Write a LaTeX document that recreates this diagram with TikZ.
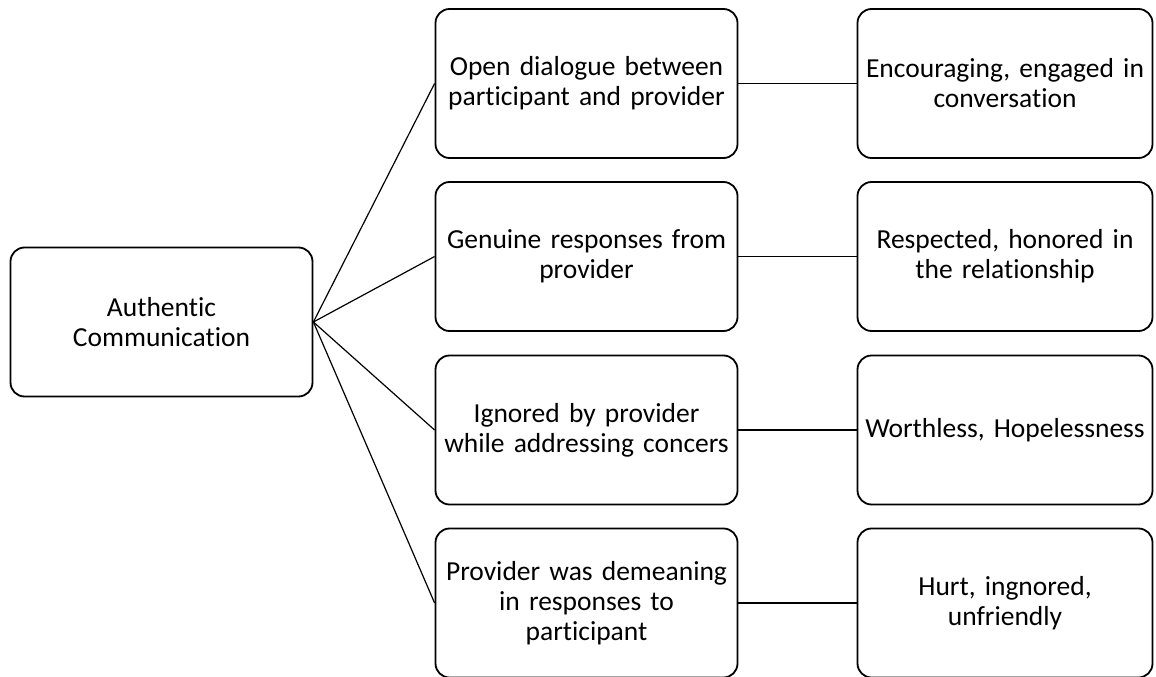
\documentclass[tikz,border=0pt]{standalone}
\usepackage{fontspec}
\setmainfont{Carlito}[RawFeature=-liga]
\usetikzlibrary{positioning}

\tikzset{
    box/.style={draw, line width=1.8pt, rounded corners=14pt, align=center,
        inner sep=0pt, minimum height=149pt, font=\fontsize{27.5}{30}\selectfont},
    link/.style={line width=1.2pt}
}

\begin{document}
\begin{tikzpicture}[x=1pt, y=-1pt]
    \useasboundingbox (0, 0) rectangle (1156, 677);

    % Root
    \node[box, minimum width=302pt, text width=290pt] (root) at (161.5, 322) {Authentic\\Communication};

    % Middle column
    \foreach \i/\y/\txt in {
        1/83.5/{Open dialogue between\\participant and provider},
        2/256.5/{Genuine responses from\\provider},
        3/430/{Ignored by provider\\while addressing concers},
        4/603/{Provider was demeaning\\in responses to\\participant}} {
        \node[box, minimum width=302pt, text width=298pt] (mid\i) at (586.5, \y) {\txt};
    }

    % Right column
    \foreach \i/\y/\txt in {
        1/83.5/{Encouraging, engaged in\\conversation},
        2/256.5/{Respected, honored in\\the relationship},
        3/430/{Worthless, Hopelessness},
        4/603/{Hurt, ingnored,\\unfriendly}} {
        \node[box, minimum width=295pt, text width=293pt] (res\i) at (1005, \y) {\txt};
    }

    % Connectors
    \foreach \i in {1, 2, 3, 4} {
        \draw[link] (root.east) -- (mid\i.west);
        \draw[link] (mid\i.east) -- (res\i.west);
    }
\end{tikzpicture}
\end{document}
